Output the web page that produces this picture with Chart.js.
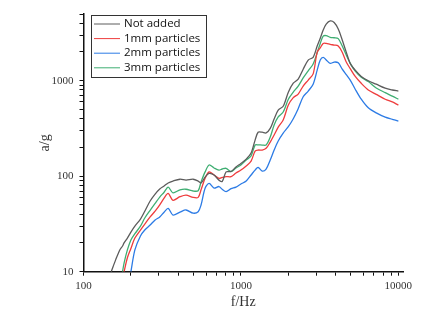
<!DOCTYPE html>
<html>
<head>
<meta charset="utf-8">
<script src="https://cdn.jsdelivr.net/npm/chart.js@4"></script>
<style>
  html, body { margin: 0; padding: 0; background: #fff; }
  #wrap { width: 434px; height: 317px; }
</style>
</head>
<body>
<div id="wrap"><canvas id="lineChart"></canvas></div>
<script>
// frequency grid (Hz)
const freqs = [150, 160, 170, 177, 181, 190, 200, 212, 230, 245, 265, 285, 305, 325, 345, 370, 410, 448, 497, 535,
  558, 592, 628, 675, 725, 760, 805, 865, 930, 1000, 1080, 1160, 1230, 1285, 1365, 1445, 1535, 1625, 1725, 1855,
  2000, 2150, 2310, 2485, 2675, 2875, 3050, 3190, 3330, 3480, 3690, 3910, 4150, 4400, 4665, 4945, 5320, 5810,
  6440, 7235, 8250, 9150, 10000]

const notAdded = [10, 13.3, 16.9, 18.6, 20, 22.5, 26, 30, 35.6, 43, 55, 65, 73.5, 79, 85, 89, 93, 91, 93, 89,
  85, 98, 107, 103, 91, 88, 111, 112, 125, 136, 151, 175, 239, 289, 289, 284, 317, 397, 493, 540,
  759, 942, 1040, 1320, 1647, 1760, 2310, 2790, 3395, 3920, 4230, 4070, 3480, 2670, 1995, 1520, 1290, 1110,
  1000, 920, 835, 800, 780]

const mm1 = [null, null, null, null, 10, 14, 17.5, 22.5, 27.3, 31.5, 37.5, 43, 50, 59, 66, 56, 61, 63.5, 60, 60,
  72, 95, 111, 103, 95, 97, 99, 99, 108, 116, 128, 144, 183, 188, 188, 196, 228, 270, 327, 388,
  556, 665, 725, 880, 1016, 1180, 1990, 2210, 2460, 2460, 2400, 2364, 2310, 1990, 1570, 1340, 1110, 940,
  800, 720, 640, 600, 556]

const mm2 = [null, null, null, null, null, null, 10, 16.9, 23.7, 27.3, 30.8, 34.8, 37.5, 42, 46, 39.2, 42, 44.3, 41, 42.5,
  50, 75, 84, 75, 78, 73, 69, 74, 77, 83, 89, 103, 116, 124, 113, 119, 148, 188, 234, 283,
  330, 400, 510, 680, 780, 920, 1290, 1647, 1760, 1650, 1520, 1570, 1540, 1320, 1160, 1016, 815, 640,
  520, 460, 415, 395, 378]

const mm3 = [null, null, null, 10, 12.3, 16.9, 21.5, 25, 30, 36.5, 44, 52, 60.5, 68, 77, 67, 72, 73, 70, 70.5,
  87, 111, 131, 122, 116, 119, 121, 112, 122, 131, 148, 163, 212, 213, 212, 212, 257, 344, 418, 470,
  640, 760, 880, 1070, 1270, 1500, 1960, 2460, 2930, 2970, 2850, 2820, 2760, 2310, 1860, 1520, 1260, 1090,
  980, 840, 750, 690, 640]

const seriesNames = ['Not added', '1mm particles', '2mm particles', '3mm particles']
const seriesColors = ['#5c5c5c', '#ee3d3d', '#2c7be5', '#3fae72']
const seriesValues = [notAdded, mm1, mm2, mm3]

const xTickLabels = [100, 1000, 10000]
const yTickLabels = [10, 100, 1000]

const niceLog = (v) => {
  const m = v / Math.pow(10, Math.floor(Math.log10(v) + 1e-9))
  return Math.abs(m - Math.round(m)) < 1e-6
}

// legend box drawn inside the plot
const boxLegend = {
  id: 'boxLegend',
  afterDraw(chart) {
    const ctx = chart.ctx
    ctx.save()
    ctx.strokeStyle = '#333'
    ctx.lineWidth = 1
    ctx.strokeRect(91.5, 15.5, 115, 62)
    ctx.font = '11.5px "Open Sans", sans-serif'
    ctx.textBaseline = 'middle'
    chart.data.datasets.forEach((ds, i) => {
      const y = 24 + i * 14.6
      ctx.strokeStyle = ds.borderColor
      ctx.beginPath()
      ctx.moveTo(94, y)
      ctx.lineTo(120, y)
      ctx.stroke()
      ctx.fillStyle = '#111'
      ctx.fillText(ds.label, 124, y)
    })
    ctx.restore()
  }
}

const ctx = document.getElementById('lineChart').getContext('2d')

new Chart(ctx, {
  type: 'line',
  data: {
    labels: freqs,
    datasets: seriesValues.map((vals, i) => ({
      label: seriesNames[i],
      data: vals.map((v, j) => ({ x: freqs[j], y: v })),
      borderColor: seriesColors[i],
      borderWidth: 1.3,
      pointRadius: 0,
      tension: 0.3,
      fill: false,
    }))
  },
  options: {
    responsive: true,
    maintainAspectRatio: false,
    animation: false,
    layout: { padding: { top: 14, right: 31, left: 0, bottom: 0 } },
    plugins: {
      legend: { display: false },
      tooltip: { enabled: false },
    },
    scales: {
      x: {
        type: 'logarithmic',
        min: 100,
        max: 10700,
        border: { display: true, color: '#111', width: 1.5 },
        grid: { drawOnChartArea: false, drawTicks: true, tickLength: 4, color: '#111', lineWidth: 1 },
        afterBuildTicks: (scale) => { scale.ticks = scale.ticks.filter(t => niceLog(t.value)) },
        afterFit: (scale) => { scale.height = 45.3 },
        ticks: {
          autoSkip: false,
          maxRotation: 0,
          padding: 4,
          color: '#333',
          font: { family: '"Liberation Serif", serif', size: 11 },
          callback: (v) => xTickLabels.includes(v) ? String(v) : '',
        },
        title: {
          display: true,
          text: 'f/Hz',
          color: '#333',
          font: { family: '"Liberation Serif", serif', size: 14 },
          padding: { top: 0, bottom: 6 },
        },
      },
      y: {
        type: 'logarithmic',
        min: 10,
        max: 5000,
        border: { display: true, color: '#111', width: 1.5 },
        grid: { drawOnChartArea: false, drawTicks: true, tickLength: 4, color: '#111', lineWidth: 1 },
        afterBuildTicks: (scale) => { scale.ticks = scale.ticks.filter(t => niceLog(t.value)) },
        afterFit: (scale) => { scale.width = 83.5 },
        ticks: {
          autoSkip: false,
          padding: 6,
          color: '#333',
          font: { family: '"Liberation Serif", serif', size: 11 },
          callback: (v) => yTickLabels.includes(v) ? String(v) : '',
        },
        title: {
          display: true,
          text: 'a/g',
          color: '#333',
          font: { family: '"Liberation Serif", serif', size: 14 },
          padding: { top: 37, bottom: 0 },
        },
      },
    },
  },
  plugins: [boxLegend],
})
</script>
</body>
</html>
